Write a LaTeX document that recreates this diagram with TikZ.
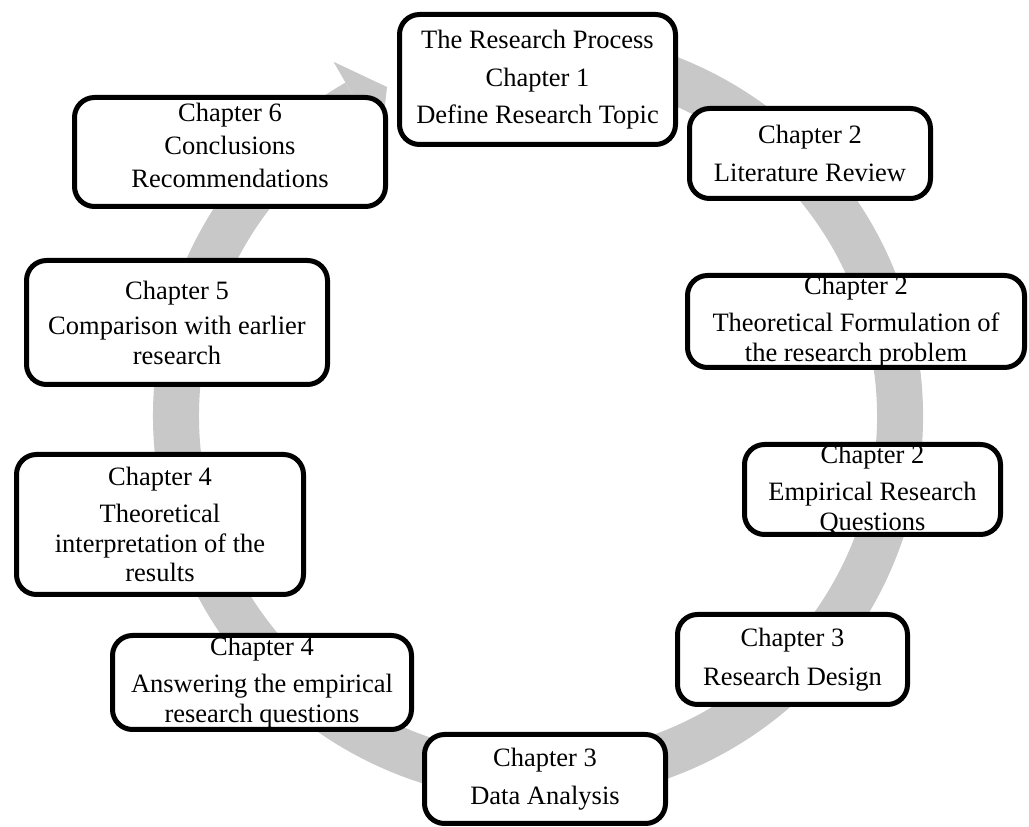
\documentclass[tikz,border=0pt]{standalone}
\usepackage{fontspec}
\setmainfont{Liberation Serif}
\usetikzlibrary{calc}
\begin{document}
\begin{tikzpicture}[x=1pt,y=1pt]
\definecolor{ringgray}{RGB}{200,200,200}
\tikzset{
  chbox/.style={draw, line width=5pt, rounded corners=20pt, fill=white,
    align=center, inner sep=0pt, font=\fontsize{26.5}{29.5}\selectfont},
  boxtext/.style={align=center, inner sep=0pt, font=\fontsize{26.5}{29.5}\selectfont},
  ringband/.style={draw=ringgray, line width=46pt},
}
\useasboundingbox (0,0) rectangle (1029,827);
\coordinate (c) at (538,411);
% circular arrow
\draw[ringband] ([shift={(100:362)}]c) arc[start angle=100, end angle=-240, radius=362];
\fill[ringgray] ([shift={(120:409)}]c) -- ([shift={(114.65:362)}]c) -- ([shift={(120:315)}]c) -- cycle;
% boxes
\node[chbox, minimum width=276, minimum height=130] (top) at (537.5,747.5)
  {The Research Process\\[9pt] Chapter 1\\[7pt] Define Research Topic};
\node[chbox, minimum width=311, minimum height=109] (c6) at (230,675) {};
\node[boxtext] (c6t) at (230,682)
  {Chapter 6\\[4pt] Conclusions\\[3pt] Recommendations};
\node[chbox, minimum width=241, minimum height=90] (lit) at (810,673.5)
  {Chapter 2\\[9pt] Literature Review};
\node[chbox, minimum width=337, minimum height=92] (form) at (856,505.5)
  {Chapter 2\\[8pt] Theoretical Formulation of\\ the research problem};
\node[chbox, minimum width=256, minimum height=90] (emp) at (872.5,337.5)
  {Chapter 2\\[8pt] Empirical Research\\ Questions};
\node[chbox, minimum width=230, minimum height=90] (design) at (792.5,167.5)
  {Chapter 3\\[9pt] Research Design};
\node[chbox, minimum width=241, minimum height=89] (data) at (545,48)
  {Chapter 3\\[9pt] Data Analysis};
\node[chbox, minimum width=299, minimum height=94] (answer) at (262,144.5)
  {Chapter 4\\[8pt] Answering the empirical\\ research questions};
\node[chbox, minimum width=287, minimum height=140] (interp) at (160,302.5)
  {Chapter 4\\[8pt] Theoretical\\ interpretation of the\\ results};
\node[chbox, minimum width=301, minimum height=124] (c5) at (177,504.5)
  {Chapter 5\\[6pt] Comparison with earlier\\ research};
\end{tikzpicture}
\end{document}
